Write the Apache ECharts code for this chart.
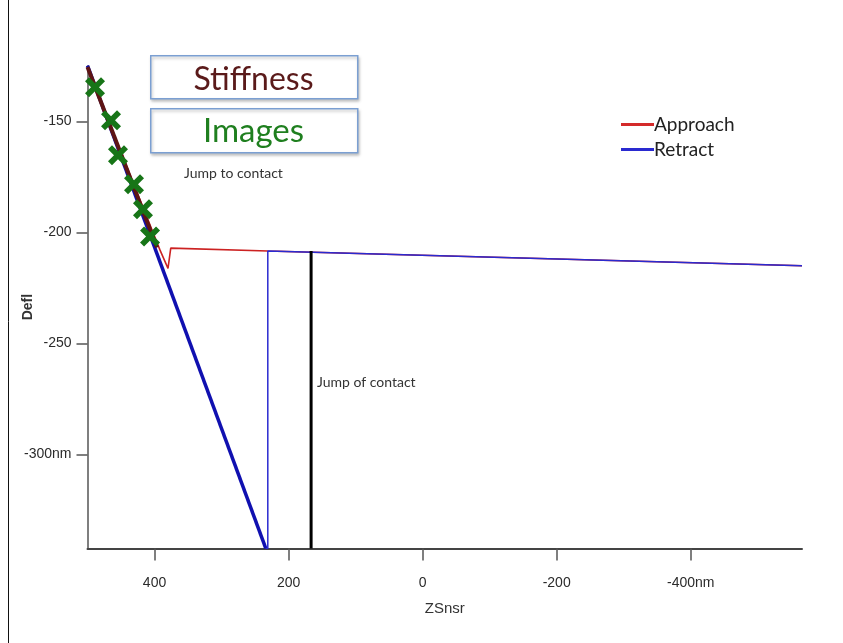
<!DOCTYPE html>
<html>
<head>
<meta charset="utf-8">
<script src="https://cdn.jsdelivr.net/npm/echarts@6/dist/echarts.min.js"></script>
<style>
  html, body { margin: 0; padding: 0; background: #fff; }
  #chart { width: 843px; height: 643px; }
</style>
</head>
<body>
<div id="chart"></div>
<script>
'use strict';

// axis ticks
const zsnsrTicks = [400, 200, 0, -200, -400];
const deflTicks = [-150, -200, -250, -300];

// approach curve (ZSnsr nm, Defl nm)
const approachZ = [500, 391.8, 379.9, 375.8, 231, -566];
const approachDefl = [-126, -208, -216.2, -207.1, -208.4, -215];

// retract: contact line (thick) and the rest (thin)
const retractContactZ = [500, 234];
const retractContactDefl = [-125, -342.2];
const retractZ = [-566, 231, 231, 234];
const retractDefl = [-215, -208.4, -342.2, -342.2];

// stiffness fit
const stiffZ = [500, 396.3];
const stiffDefl = [-125.6, -206.8];

// image points
const imageZ = [488.8, 464.9, 454.5, 430.6, 417.2, 406.7];
const imageDefl = [-134.7, -149.5, -165.3, -178.4, -189.6, -201.8];

// jump of contact marker
const jumpZ = [166.4, 166.4];
const jumpDefl = [-208.4, -342.2];

const zip = (xs, ys) => xs.map((x, i) => [x, ys[i]]);

const chart = echarts.init(document.getElementById('chart'));

const xMark = 'path://M0,4 L4,0 L10,6 L16,0 L20,4 L14,10 L20,16 L16,20 L10,14 L4,20 L0,16 L6,10 Z';
const tickFont = { fontFamily: 'Liberation Sans', fontSize: 14, color: '#2b2b2b' };

const option = {
  animation: false,
  grid: { left: 87.5, right: 41, top: 65.7, height: 482.7, containLabel: false, outerBoundsMode: 'none' },
  legend: {
    data: ['Approach', 'Retract'],
    orient: 'vertical',
    left: 621,
    top: 115,
    padding: 0,
    icon: 'rect',
    itemWidth: 33,
    itemHeight: 3,
    itemGap: 6,
    textStyle: { fontFamily: 'Lato', fontSize: 19, color: '#222', padding: [0, 0, 0, -5] }
  },
  xAxis: {
    type: 'value',
    inverse: true,
    min: -566,
    max: 500,
    name: 'ZSnsr',
    nameLocation: 'middle',
    nameGap: 53,
    nameMoveOverlap: false,
    nameTextStyle: { fontFamily: 'Liberation Sans', fontSize: 15, color: '#333' },
    splitLine: { show: false },
    axisLine: { onZero: false, lineStyle: { color: '#444', width: 2 } },
    axisTick: { customValues: zsnsrTicks, length: 12, lineStyle: { color: '#555', width: 1.5 } },
    axisLabel: Object.assign({
      customValues: zsnsrTicks,
      margin: 28,
      formatter: v => v === -400 ? '-400nm' : String(v)
    }, tickFont)
  },
  yAxis: {
    type: 'value',
    min: -342.2,
    max: -125,
    name: 'Defl',
    nameLocation: 'middle',
    nameRotate: 90,
    nameGap: 52,
    nameMoveOverlap: false,
    nameTextStyle: { fontFamily: 'Liberation Sans', fontSize: 14, fontWeight: 'bold', color: '#333' },
    splitLine: { show: false },
    axisLine: { show: true, onZero: false, lineStyle: { color: '#555', width: 1.5 } },
    axisTick: { customValues: deflTicks, length: 11, lineStyle: { color: '#555', width: 1.5 } },
    axisLabel: Object.assign({
      customValues: deflTicks,
      margin: 16,
      formatter: v => v === -300 ? '-300nm' : String(v)
    }, tickFont)
  },
  series: [
    {
      name: 'Retract', type: 'line', data: zip(retractContactZ, retractContactDefl),
      showSymbol: false, color: '#2a2ad0',
      lineStyle: { color: '#1010b0', width: 3.5 }
    },
    {
      name: 'Retract', type: 'line', data: zip(retractZ, retractDefl),
      showSymbol: false, color: '#2a2ad0',
      lineStyle: { color: '#2a2ad0', width: 1.5 }, z: 3
    },
    {
      name: 'Approach', type: 'line', data: zip(approachZ, approachDefl),
      showSymbol: false, color: '#d42a2a',
      lineStyle: { color: '#cc2222', width: 1.6 }, z: 2
    },
    {
      name: 'Stiffness', type: 'line', data: zip(stiffZ, stiffDefl),
      showSymbol: false,
      lineStyle: { color: '#5e1414', width: 4 }, z: 4
    },
    {
      name: 'JumpOff', type: 'line', data: zip(jumpZ, jumpDefl),
      showSymbol: false,
      lineStyle: { color: '#000', width: 3 }, z: 4
    },
    {
      name: 'Images', type: 'scatter', data: zip(imageZ, imageDefl),
      symbol: xMark, symbolSize: 20,
      itemStyle: { color: '#177517', opacity: 1 }, z: 5
    }
  ],
  graphic: [
    { type: 'line', shape: { x1: 8.5, y1: 0, x2: 8.5, y2: 643 }, style: { stroke: '#c8c8c8', lineWidth: 1 } },
    {
      type: 'rect', left: 150, top: 55, shape: { width: 207, height: 43 },
      style: { fill: '#fff', stroke: '#7b9fd2', lineWidth: 1.5, shadowBlur: 3, shadowOffsetX: 1, shadowOffsetY: 2, shadowColor: 'rgba(0,0,0,0.25)' }, z: 10
    },
    {
      type: 'text', x: 253.5, y: 80, z: 11,
      style: { text: 'Stiffness', fill: '#5a1a1a', font: '32px Lato', align: 'center', verticalAlign: 'middle' }
    },
    {
      type: 'rect', left: 150, top: 108, shape: { width: 207, height: 44 },
      style: { fill: '#fff', stroke: '#7b9fd2', lineWidth: 1.5, shadowBlur: 3, shadowOffsetX: 1, shadowOffsetY: 2, shadowColor: 'rgba(0,0,0,0.25)' }, z: 10
    },
    {
      type: 'text', x: 253.5, y: 131, z: 11,
      style: { text: 'Images', fill: '#1f7f1f', font: '33px Lato', align: 'center', verticalAlign: 'middle' }
    },
    {
      type: 'text', x: 184, y: 173, z: 11,
      style: { text: 'Jump to contact', fill: '#333', font: '14px Lato', verticalAlign: 'middle' }
    },
    {
      type: 'text', x: 317, y: 382, z: 11,
      style: { text: 'Jump of contact', fill: '#333', font: '14px Lato', verticalAlign: 'middle' }
    }
  ]
};

chart.setOption(option);

// ellipse around the jump-to-contact, anchored on the data
const c = chart.convertToPixel({ gridIndex: 0 }, [375.4, -204]);
chart.setOption({
  graphic: [{
    type: 'ellipse', z: 11,
    shape: { cx: c[0], cy: c[1], rx: 4.5, ry: 52 },
    style: { fill: 'none', stroke: '#111', lineWidth: 1 }
  }]
});
</script>
</body>
</html>
